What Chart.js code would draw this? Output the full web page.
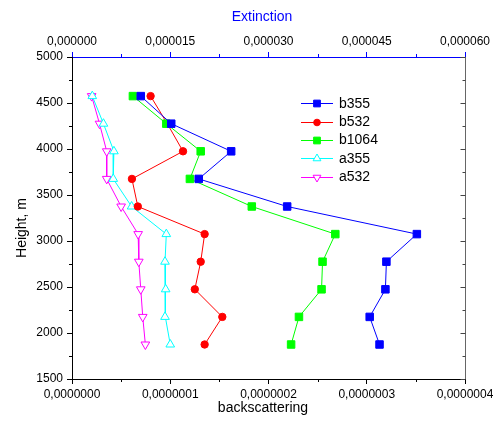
<!DOCTYPE html>
<html><head><meta charset="utf-8">
<style>html,body{margin:0;padding:0;background:#fff}#wrap{width:493px;height:423px}</style>
<script src="https://cdn.jsdelivr.net/npm/chart.js@4.4.0/dist/chart.umd.min.js"></script>
</head><body><div id="wrap"><canvas id="c" width="493" height="423"></canvas></div>
<script>
// ---- data ----
const heights = [4575, 4275, 3975, 3675, 3375, 3075, 2775, 2475, 2175, 1875];
// backscattering values, units of 1e-7
const b355  = [0.70, 1.01, 1.62, 1.29, 2.19, 3.51, 3.20, 3.19, 3.03, 3.13];
const b532  = [0.80, 0.97, 1.13, 0.61, 0.67, 1.35, 1.31, 1.25, 1.53, 1.35];
const b1064 = [0.62, 0.96, 1.31, 1.20, 1.83, 2.68, 2.55, 2.54, 2.31, 2.23];
// extinction values, units of 1e-6
const a355  = [3.1, 4.8, 6.4, 6.3, 9.1, 14.4, 14.2, 14.3, 14.2, 15.0];
const a532  = [3.0, 4.2, 5.3, 5.3, 7.5, 10.1, 10.2, 10.5, 10.8, 11.2];
const B_UNIT = 1e-7, A_UNIT = 1e-6;

const bottomTickLabels = ['0,0000000','0,0000001','0,0000002','0,0000003','0,0000004'];
const topTickLabels = ['0,000000','0,000015','0,000030','0,000045','0,000060'];
const yTickLabels = ['1500','2000','2500','3000','3500','4000','4500','5000'];
const seriesNames = ['b355','b532','b1064','a355','a532'];

const FONT = "'Liberation Sans', Arial, sans-serif";
Chart.defaults.font.family = FONT;

function pts(vals, unit){ return heights.map((h,i)=>({x: vals[i]*unit, y: h})); }

const styles = [
  {color:'#0000ff', pointStyle:'rect', radius:5.3, rotation:0, fill:'#0000ff'},
  {color:'#ff0000', pointStyle:'circle', radius:3.7, rotation:0, fill:'#ff0000'},
  {color:'#00ff00', pointStyle:'rect', radius:5.3, rotation:0, fill:'#00ff00'},
  {color:'#00ffff', pointStyle:'triangle', radius:5, rotation:0, fill:'#ffffff'},
  {color:'#ff00ff', pointStyle:'triangle', radius:5, rotation:180, fill:'#ffffff'}
];
const seriesData = [pts(b355,B_UNIT), pts(b532,B_UNIT), pts(b1064,B_UNIT), pts(a355,A_UNIT), pts(a532,A_UNIT)];
const axisIds = ['x','x','x','x2','x2'];
const orders = [0,2,1,3,4];

const datasets = seriesNames.map((n,i)=>({
  label:n, data:seriesData[i], xAxisID:axisIds[i], yAxisID:'y', showLine:true,
  borderColor:styles[i].color, borderWidth:1, backgroundColor:styles[i].fill,
  pointStyle:styles[i].pointStyle, pointRadius:styles[i].radius, pointRotation:styles[i].rotation,
  pointBorderColor:styles[i].color, pointBackgroundColor:styles[i].fill, pointBorderWidth:1,
  order:orders[i], tension:0
}));

function drawMarker(ctx, st, x, y, r){
  ctx.save();
  ctx.fillStyle = st.fill; ctx.strokeStyle = st.color; ctx.lineWidth = 1;
  if (Chart.helpers && Chart.helpers.drawPoint){
    Chart.helpers.drawPoint(ctx, {pointStyle:st.pointStyle, radius:r, rotation:st.rotation, borderWidth:1}, x, y);
  } else {
    ctx.beginPath();
    if (st.pointStyle==='circle') ctx.arc(x,y,r,0,Math.PI*2);
    else if (st.pointStyle==='rect'){ const s=r*Math.SQRT1_2; ctx.rect(x-s,y-s,2*s,2*s); }
    else { let a=st.rotation*Math.PI/180; for(let k=0;k<3;k++){ const px=x+Math.sin(a)*r, py=y-Math.cos(a)*r; k?ctx.lineTo(px,py):ctx.moveTo(px,py); a+=2*Math.PI/3;} ctx.closePath(); }
    ctx.fill(); ctx.stroke();
  }
  ctx.restore();
}

const decor = {
  id:'decor',
  afterDraw(chart){
    const {ctx, chartArea:ca, scales} = chart;
    ctx.save();
    ctx.lineWidth = 1;
    const ln=(x1,y1,x2,y2,c)=>{ctx.strokeStyle=c;ctx.beginPath();ctx.moveTo(x1,y1);ctx.lineTo(x2,y2);ctx.stroke();};
    for (let k=0;k<4;k++){ const px=Math.round(scales.x.getPixelForValue((k+0.5)*1e-7))+0.5; ln(px,ca.bottom,px,ca.bottom+3,'#000'); }
    for (let k=0;k<4;k++){ const px=Math.round(scales.x2.getPixelForValue((k+0.5)*1.5e-5))+0.5; ln(px,ca.top,px,ca.top-3,'#0000ff'); }
    const rx = Math.round(ca.right)+0.5;
    ln(rx, ca.top, rx, ca.bottom, '#666666');
    for (let h=1500; h<=5000; h+=250){
      const py=Math.round(scales.y.getPixelForValue(h))+0.5;
      const major = (h%500===0);
      if(!major) ln(ca.left-3,py,ca.left,py,'#000');
      ln(rx-(major?5:3),py,rx,py,'#444444');
    }
    ctx.font = '14px '+FONT; ctx.textAlign='center'; ctx.textBaseline='middle';
    ctx.fillStyle='#000'; ctx.fillText('backscattering', 263, 408);
    ctx.fillStyle='#0000ff'; ctx.fillText('Extinction', 262, 17);
    ctx.save(); ctx.translate(22, 228); ctx.rotate(-Math.PI/2); ctx.fillStyle='#000'; ctx.fillText('Height, m', 0, 0); ctx.restore();
    const rowY=[103.3,121.7,140,158.3,176.7];
    ctx.textAlign='left';
    seriesNames.forEach((n,i)=>{
      const y=rowY[i];
      ln(301,Math.round(y)+0.5,333,Math.round(y)+0.5,styles[i].color);
      drawMarker(ctx, styles[i], 317, Math.round(y)+0.5, styles[i].radius*0.9);
      ctx.fillStyle='#000'; ctx.font='14px '+FONT; ctx.textBaseline='middle';
      ctx.fillText(n, 339, y+0.5);
    });
    ctx.restore();
  }
};

const fitX = h => s => { s.height = h; s.paddingLeft = 0; s.paddingRight = 0; };

new Chart(document.getElementById('c'), {
  type:'scatter',
  data:{datasets},
  plugins:[decor],
  options:{
    responsive:false, animation:false, devicePixelRatio:1,
    layout:{padding:0},
    plugins:{legend:{display:false}, tooltip:{enabled:false}},
    scales:{
      x:{type:'linear', position:'bottom', min:0, max:4e-7,
        ticks:{stepSize:1e-7, autoSkip:false, maxRotation:0, color:'#000', font:{size:12}, padding:3,
          callback:(v,i)=>bottomTickLabels[i]},
        grid:{display:true, drawOnChartArea:false, drawTicks:true, tickLength:5, tickColor:'#000', tickWidth:1},
        border:{display:true, color:'#000', width:1},
        afterFit:fitX(44)},
      x2:{type:'linear', position:'top', min:0, max:6e-5,
        ticks:{stepSize:1.5e-5, autoSkip:false, maxRotation:0, color:'#000', font:{size:12}, padding:3,
          callback:(v,i)=>topTickLabels[i]},
        grid:{display:true, drawOnChartArea:false, drawTicks:true, tickLength:5, tickColor:'#0000ff', tickWidth:1},
        border:{display:true, color:'#0000ff', width:1},
        afterFit:fitX(57)},
      y:{type:'linear', position:'left', min:1500, max:5000,
        ticks:{stepSize:500, autoSkip:false, color:'#000', font:{size:12}, padding:4,
          callback:(v,i)=>yTickLabels[i]},
        grid:{display:true, drawOnChartArea:false, drawTicks:true, tickLength:5, tickColor:'#000', tickWidth:1},
        border:{display:true, color:'#000', width:1},
        afterFit:s=>{s.width=72; s.paddingTop=0; s.paddingBottom=0;}},
      y2:{type:'linear', position:'right', min:1500, max:5000, display:true,
        ticks:{display:false}, grid:{display:false}, border:{display:false},
        afterFit:s=>{s.width=28; s.paddingTop=0; s.paddingBottom=0;}}
    }
  }
});
</script></body></html>
